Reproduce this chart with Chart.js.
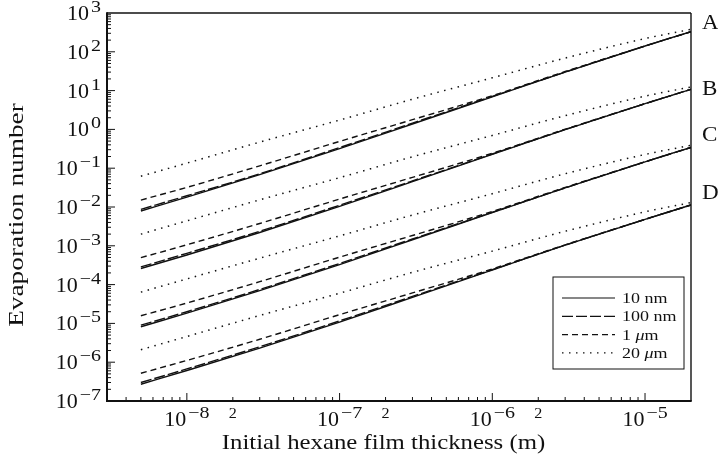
<!DOCTYPE html>
<html lang="en">
<head>
<meta charset="utf-8">
<title>Evaporation number vs. hexane film thickness</title>
<style>
    html, body { margin: 0; padding: 0; background: #fff; }
</style>
</head>
<body>
<canvas id="evapChart" width="718" height="461"></canvas>

<script src="https://cdn.jsdelivr.net/npm/chart.js"></script>
<script>
    // initial hexane film thickness (m)
    const thickness = [5e-9, 1e-8, 3e-8, 1e-7, 3e-7, 1e-6, 3e-6, 1e-5, 2e-5];

    // curve families, one per group
    const groupNames = ['A', 'B', 'C', 'D'];
    const sizeLabels = ['10 nm', '100 nm', '1 µm', '20 µm'];

    // group A
    const a10nm  = [7.9e-3, 1.8e-2, 6.8e-2, 0.32, 1.38, 6.9, 30, 141, 330];
    const a100nm = [8.7e-3, 1.95e-2, 7.2e-2, 0.34, 1.45, 7.1, 30, 141, 330];
    const a1um   = [1.51e-2, 3.2e-2, 0.115, 0.49, 1.78, 7.4, 31, 141, 330];
    const a20um  = [6.2e-2, 0.135, 0.47, 1.74, 6.0, 21.4, 69, 219, 380];

    // group B
    const b10nm  = [2.6e-4, 5.8e-4, 2.2e-3, 1.04e-2, 4.5e-2, 0.226, 0.99, 4.6, 10.8];
    const b100nm = [2.85e-4, 6.4e-4, 2.37e-3, 1.11e-2, 4.7e-2, 0.232, 0.99, 4.6, 10.8];
    const b1um   = [4.95e-4, 1.06e-3, 3.76e-3, 1.6e-2, 5.8e-2, 0.243, 1.01, 4.6, 10.8];
    const b20um  = [2.0e-3, 4.4e-3, 1.53e-2, 5.7e-2, 0.197, 0.70, 2.26, 7.2, 12.4];

    // group C
    const c10nm  = [8.2e-6, 1.84e-5, 7.0e-5, 3.27e-4, 1.43e-3, 7.2e-3, 3.1e-2, 0.146, 0.343];
    const c100nm = [9.0e-6, 2.0e-5, 7.5e-5, 3.5e-4, 1.5e-3, 7.3e-3, 3.1e-2, 0.146, 0.343];
    const c1um   = [1.57e-5, 3.35e-5, 1.19e-4, 5.1e-4, 1.84e-3, 7.7e-3, 3.2e-2, 0.146, 0.343];
    const c20um  = [6.4e-5, 1.4e-4, 4.8e-4, 1.8e-3, 6.2e-3, 2.2e-2, 7.2e-2, 0.226, 0.39];

    // group D
    const d10nm  = [2.7e-7, 6.1e-7, 2.3e-6, 1.08e-5, 4.7e-5, 2.37e-4, 1.04e-3, 4.8e-3, 1.13e-2];
    const d100nm = [3.0e-7, 6.7e-7, 2.5e-6, 1.16e-5, 4.95e-5, 2.43e-4, 1.04e-3, 4.8e-3, 1.13e-2];
    const d1um   = [5.2e-7, 1.11e-6, 3.9e-6, 1.68e-5, 6.1e-5, 2.54e-4, 1.06e-3, 4.8e-3, 1.13e-2];
    const d20um  = [2.1e-6, 4.6e-6, 1.6e-5, 6.0e-5, 2.07e-4, 7.3e-4, 2.37e-3, 7.5e-3, 1.3e-2];

    const groups = [
        [a10nm, a100nm, a1um, a20um],
        [b10nm, b100nm, b1um, b20um],
        [c10nm, c100nm, c1um, c20um],
        [d10nm, d100nm, d1um, d20um]
    ];

    // where the group letters sit on the y axis
    const groupLabelAt = [600, 12, 0.75, 0.024];

    // axis ranges and labelled ticks
    const xMin = 3e-9, xMax = 2e-5;
    const yMin = 1e-7, yMax = 1e3;
    const xDecades = [-8, -7, -6, -5];
    const xTwos = [2e-8, 2e-7, 2e-6];
    const yDecades = [3, 2, 1, 0, -1, -2, -3, -4, -5, -6, -7];

    const dashes = [[], [11, 3], [6, 4], [1.5, 5.5]];
    const SERIF = '"Liberation Serif", "DejaVu Serif", serif';
    const INK = '#111';

    const datasets = [];
    groups.forEach(function (g, gi) {
        g.forEach(function (vals, si) {
            datasets.push({
                label: groupNames[gi] + ' ' + sizeLabels[si],
                data: thickness.map(function (t, i) { return {x: t, y: vals[i]}; }),
                borderColor: INK,
                borderWidth: si === 3 ? 1.5 : 1.4,
                borderDash: dashes[si],
                pointRadius: 0,
                fill: false,
                cubicInterpolationMode: 'monotone'
            });
        });
    });

    // text drawn a little wider than the font's own proportions
    function wideText(ctx, text, x, y, size, stretch, align, style) {
        ctx.save();
        ctx.font = (style ? style + ' ' : '') + size + 'px ' + SERIF;
        const w = ctx.measureText(text).width * stretch;
        ctx.translate(x, y);
        ctx.scale(stretch, 1);
        ctx.textAlign = align;
        ctx.fillText(text, 0, 0);
        ctx.restore();
        return w;
    }

    function textWidth(ctx, text, size, stretch, style) {
        ctx.save();
        ctx.font = (style ? style + ' ' : '') + size + 'px ' + SERIF;
        const w = ctx.measureText(text).width * stretch;
        ctx.restore();
        return w;
    }

    // "10" with a raised exponent
    function drawPow(ctx, px, py, exp, align) {
        const sup = String(exp).replace('-', '\u2212');
        const wb = textWidth(ctx, '10', 20, 1.1);
        const ws = textWidth(ctx, sup, 16, 1.25);
        const total = wb + 2 + ws;
        const x0 = align === 'right' ? px - total : px - total / 2;
        wideText(ctx, '10', x0, py, 20, 1.1, 'left');
        wideText(ctx, sup, x0 + wb + 2, py - 8, 16, 1.25, 'left');
    }

    // frame, inward ticks, tick labels, titles, legend
    const paperAxes = {
        id: 'paperAxes',
        afterDraw(chart) {
            const ctx = chart.ctx;
            const a = chart.chartArea;
            const x = chart.scales.x, y = chart.scales.y;
            ctx.save();
            ctx.strokeStyle = INK;
            ctx.fillStyle = INK;
            ctx.textBaseline = 'alphabetic';

            function seg(x1, y1, x2, y2) {
                ctx.beginPath();
                ctx.moveTo(x1, y1);
                ctx.lineTo(x2, y2);
                ctx.stroke();
            }

            // ticks
            ctx.lineWidth = 1;
            for (let e = -9; e <= -5; e++) {
                for (let k = 1; k <= 9; k++) {
                    const px = x.getPixelForValue(k * Math.pow(10, e));
                    if (px <= a.left + 1 || px >= a.right - 1) continue;
                    seg(px, a.bottom, px, a.bottom - (k === 1 ? 8 : 4));
                }
            }
            for (let e = -7; e <= 2; e++) {
                for (let k = 1; k <= 9; k++) {
                    const py = y.getPixelForValue(k * Math.pow(10, e));
                    if (py <= a.top + 1 || py >= a.bottom - 1) continue;
                    seg(a.left, py, a.left + (k === 1 ? 8 : 4), py);
                }
            }

            // frame: heavier on the left and bottom
            ctx.lineWidth = 1.4;
            seg(a.left, a.top, a.right, a.top);
            seg(a.right, a.top, a.right, a.bottom);
            ctx.lineWidth = 2;
            seg(a.left, a.top - 0.7, a.left, a.bottom + 1);
            seg(a.left - 1, a.bottom, a.right + 0.7, a.bottom);

            // y tick labels
            yDecades.forEach(function (e) {
                drawPow(ctx, a.left - 6, y.getPixelForValue(Math.pow(10, e)) + 7, e, 'right');
            });
            // x tick labels
            xDecades.forEach(function (e) {
                drawPow(ctx, x.getPixelForValue(Math.pow(10, e)), a.bottom + 25, e, 'center');
            });
            xTwos.forEach(function (v) {
                wideText(ctx, '2', x.getPixelForValue(v), a.bottom + 17, 14, 1.15, 'center');
            });

            // group letters
            groupNames.forEach(function (n, i) {
                wideText(ctx, n, a.right + 11, y.getPixelForValue(groupLabelAt[i]) + 7, 21, 1.1, 'left');
            });

            // axis titles
            wideText(ctx, 'Initial hexane film thickness (m)', 383.5, a.bottom + 48, 21, 1.18, 'center');
            ctx.save();
            ctx.translate(23, (a.top + a.bottom) / 2 + 8);
            ctx.rotate(-Math.PI / 2);
            wideText(ctx, 'Evaporation number', 0, 0, 21, 1.3, 'center');
            ctx.restore();

            // legend box
            const bw = 131, bh = 92;
            const bx = a.right - 7 - bw, by = a.bottom - 32 - bh;
            ctx.lineWidth = 1;
            ctx.strokeRect(bx, by, bw, bh);
            sizeLabels.forEach(function (lab, i) {
                const ry = by + 21 + i * 18.3;
                ctx.setLineDash(dashes[i]);
                ctx.lineWidth = 1.2;
                seg(bx + 9, ry, bx + 62, ry);
                ctx.setLineDash([]);
                const tx = bx + 69, ty = ry + 5;
                if (lab.indexOf('µ') >= 0) {
                    const parts = lab.split('µ');
                    let w = wideText(ctx, parts[0], tx, ty, 15, 1.2, 'left');
                    w += wideText(ctx, '\u03bc', tx + w, ty, 15, 1.2, 'left', 'italic');
                    wideText(ctx, parts[1], tx + w, ty, 15, 1.2, 'left');
                } else {
                    wideText(ctx, lab, tx, ty, 15, 1.2, 'left');
                }
            });
            ctx.restore();
        }
    };

    const chart = new Chart(document.getElementById('evapChart'), {
        type: 'line',
        data: {datasets: datasets},
        options: {
            responsive: false,
            devicePixelRatio: 1,
            animation: false,
            layout: {padding: {left: 107, right: 27, top: 13, bottom: 60}},
            plugins: {legend: {display: false}, tooltip: {enabled: false}},
            scales: {
                x: {type: 'logarithmic', min: xMin, max: xMax, display: false},
                y: {type: 'logarithmic', min: yMin, max: yMax, display: false}
            }
        },
        plugins: [paperAxes]
    });
</script>
</body>
</html>
